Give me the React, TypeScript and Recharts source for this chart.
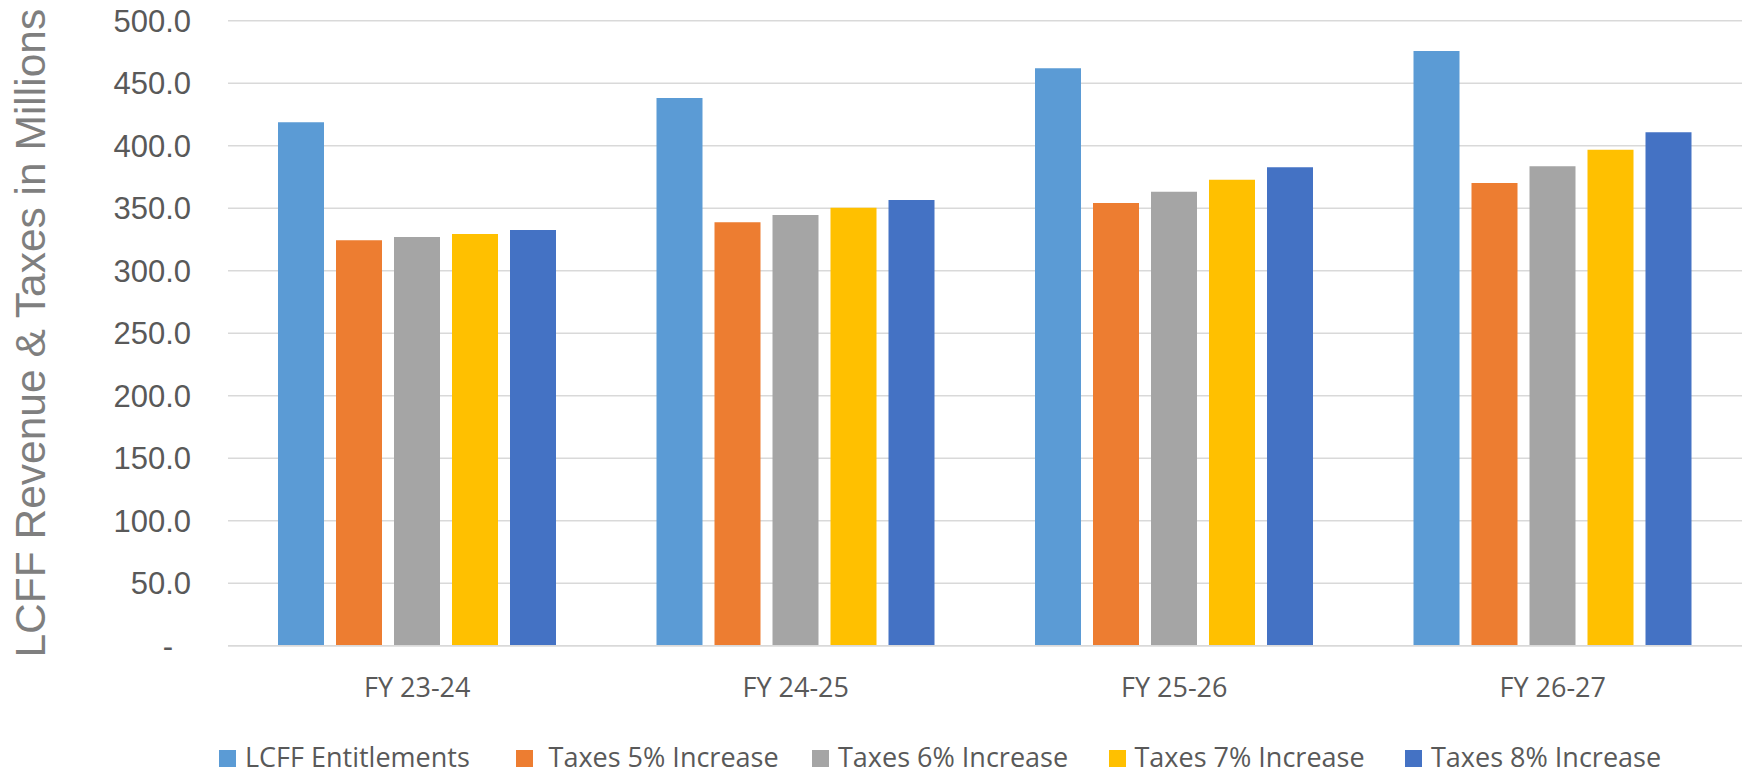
import React from 'react';
import { BarChart, Bar, XAxis, YAxis, CartesianGrid, Legend, Label } from 'recharts';

const categories = ['FY 23-24', 'FY 24-25', 'FY 25-26', 'FY 26-27'];
const lcffEntitlements = [418.7, 438.1, 461.9, 475.8];
const taxes5 = [324.3, 338.7, 354.2, 370.2];
const taxes6 = [327.0, 344.6, 363.2, 383.5];
const taxes7 = [329.4, 350.4, 372.8, 396.8];
const taxes8 = [332.6, 356.6, 382.7, 410.7];
const yTicks = [0, 50, 100, 150, 200, 250, 300, 350, 400, 450, 500];
const yAxisTitle = 'LCFF Revenue & Taxes in Millions';

const series = [
  { key: 'lcff', name: 'LCFF Entitlements', values: lcffEntitlements, color: '#5B9BD5' },
  { key: 't5', name: ' Taxes 5% Increase', values: taxes5, color: '#ED7D31' },
  { key: 't6', name: 'Taxes 6% Increase', values: taxes6, color: '#A5A5A5' },
  { key: 't7', name: 'Taxes 7% Increase', values: taxes7, color: '#FFC000' },
  { key: 't8', name: 'Taxes 8% Increase', values: taxes8, color: '#4472C4' },
];

const data = categories.map((c, i) => {
  const row: Record<string, any> = { category: c };
  series.forEach((s) => {
    row[s.key] = s.values[i];
  });
  return row;
});

const YTick = (props: any) => {
  const { x, y, payload } = props;
  const v = payload.value;
  const isZero = v === 0;
  return (
    <text
      x={isZero ? x - 18 : x}
      y={y + 11}
      textAnchor="end"
      fontFamily="'Liberation Sans', Arial, sans-serif"
      fontSize={31}
      fill="#595959"
    >
      {isZero ? '-' : v.toFixed(1)}
    </text>
  );
};

const XTick = (props: any) => {
  const { x, y, payload } = props;
  return (
    <text
      x={x}
      y={y + 51}
      textAnchor="middle"
      fontFamily="'Open Sans', sans-serif"
      fontSize={27}
      fill="#595959"
    >
      {payload.value}
    </text>
  );
};

const YTitle = (props: any) => {
  const vb = props.viewBox || { x: 0, y: 20.7, width: 228, height: 625 };
  const cy = vb.y + vb.height / 2;
  const cx = 45;
  return (
    <text
      x={cx}
      y={cy}
      transform={`rotate(-90, ${cx}, ${cy})`}
      textAnchor="middle"
      fontFamily="'Liberation Sans', Arial, sans-serif"
      fontSize={42.5}
      fill="#7F7F7F"
    >
      {yAxisTitle}
    </text>
  );
};

const renderLegend = (props: any) => {
  const payload = [...(props.payload || [])].sort(
    (a: any, b: any) =>
      series.findIndex((s) => s.key === a.dataKey) - series.findIndex((s) => s.key === b.dataKey)
  );
  return (
    <div
      style={{
        display: 'flex',
        paddingLeft: 219,
        height: 30,
        fontFamily: "'Open Sans', sans-serif",
        fontSize: 27,
        lineHeight: '30px',
        color: '#595959',
      }}
    >
      {payload.map((entry: any, i: number) => (
        <div
          key={i}
          style={{ width: 296.5, display: 'flex', alignItems: 'flex-start', whiteSpace: 'pre', flexShrink: 0 }}
        >
          <span
            style={{
              display: 'inline-block',
              width: 17,
              height: 17,
              background: entry.color,
              marginTop: 8,
              marginRight: 9,
              flexShrink: 0,
            }}
          />
          <span>{entry.value}</span>
        </div>
      ))}
    </div>
  );
};

export default function App() {
  return (
    <div style={{ position: 'absolute', left: 0, top: 0, width: 1750, height: 771, background: '#ffffff' }}>
      <BarChart
        width={1750}
        height={771}
        data={data}
        margin={{ top: 20.7, right: 8, bottom: 25.3, left: 0 }}
        barGap={12}
      >
        <CartesianGrid vertical={false} stroke="#D9D9D9" strokeWidth={1.5} />
        <XAxis
          dataKey="category"
          height={70}
          axisLine={{ stroke: '#D9D9D9', strokeWidth: 1.5 }}
          tickLine={false}
          tickSize={0}
          tickMargin={0}
          tick={<XTick />}
          interval={0}
        />
        <YAxis
          width={228}
          domain={[0, 500]}
          ticks={yTicks}
          axisLine={false}
          tickLine={false}
          tickSize={0}
          tickMargin={37}
          tick={<YTick />}
          interval={0}
        >
          <Label content={<YTitle />} />
        </YAxis>
        <Legend
          content={renderLegend}
          verticalAlign="bottom"
          wrapperStyle={{ position: 'absolute', top: 741.5, left: 0, width: 1750, height: 30, margin: 0 }}
        />
        {series.map((s) => (
          <Bar
            key={s.key}
            dataKey={s.key}
            name={s.name}
            fill={s.color}
            barSize={46}
            isAnimationActive={false}
          />
        ))}
      </BarChart>
    </div>
  );
}
